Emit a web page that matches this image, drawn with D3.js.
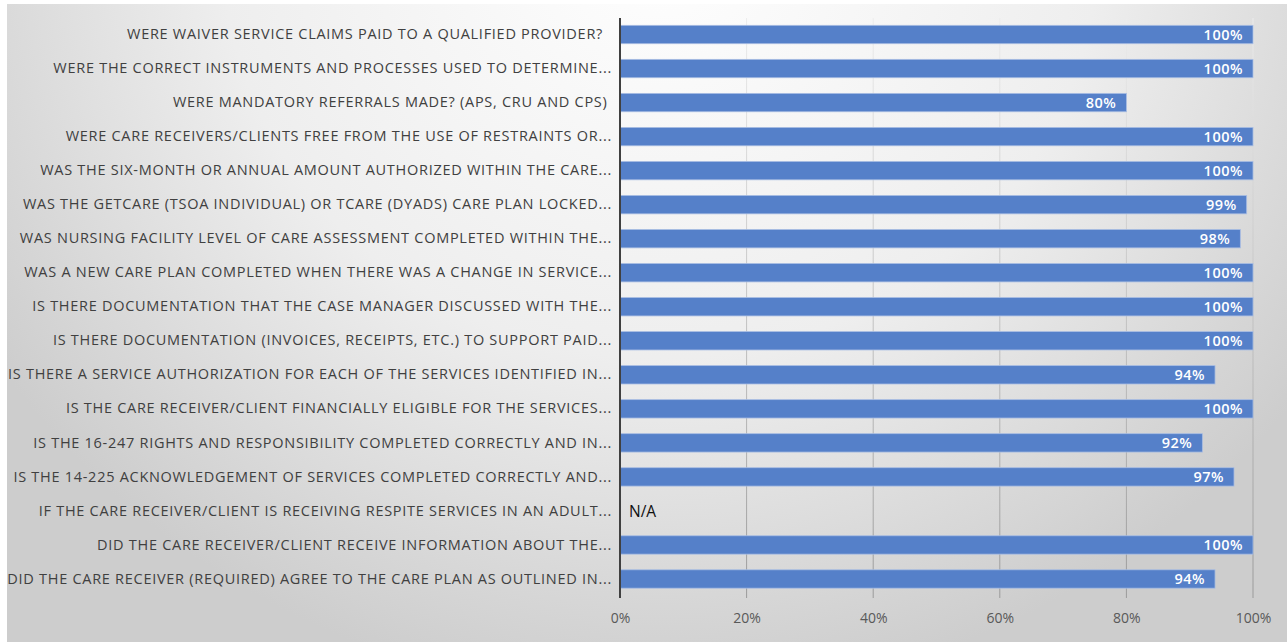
<!DOCTYPE html>
<html>
<head>
<meta charset="utf-8">
<script src="https://cdn.jsdelivr.net/npm/d3@7"></script>
<style>
  html, body { margin: 0; padding: 0; background: #ffffff; }
  svg { display: block; }
  text { font-family: "Open Sans", Lato, sans-serif; }
</style>
</head>
<body>
<svg id="chart" width="1287" height="642"></svg>
<script>
// Audit questions, top to bottom
const questions = [
  "WERE WAIVER SERVICE CLAIMS PAID TO A QUALIFIED PROVIDER?\u00a0\u00a0",
  "WERE THE CORRECT INSTRUMENTS AND PROCESSES USED TO DETERMINE...",
  "WERE MANDATORY REFERRALS MADE? (APS, CRU AND CPS)\u00a0",
  "WERE CARE RECEIVERS/CLIENTS FREE FROM THE USE OF RESTRAINTS OR...",
  "WAS THE SIX-MONTH OR ANNUAL AMOUNT AUTHORIZED WITHIN THE CARE...",
  "WAS THE GETCARE (TSOA INDIVIDUAL) OR TCARE (DYADS) CARE PLAN LOCKED...",
  "WAS NURSING FACILITY LEVEL OF CARE ASSESSMENT COMPLETED WITHIN THE...",
  "WAS A NEW CARE PLAN COMPLETED WHEN THERE WAS A CHANGE IN SERVICE...",
  "IS THERE DOCUMENTATION THAT THE CASE MANAGER DISCUSSED WITH THE...",
  "IS THERE DOCUMENTATION (INVOICES, RECEIPTS, ETC.) TO SUPPORT PAID...",
  "IS THERE A SERVICE AUTHORIZATION FOR EACH OF THE SERVICES IDENTIFIED IN...",
  "IS THE CARE RECEIVER/CLIENT FINANCIALLY ELIGIBLE FOR THE SERVICES...",
  "IS THE 16-247 RIGHTS AND RESPONSIBILITY COMPLETED CORRECTLY AND IN...",
  "IS THE 14-225 ACKNOWLEDGEMENT OF SERVICES COMPLETED CORRECTLY AND...",
  "IF THE CARE RECEIVER/CLIENT IS RECEIVING RESPITE SERVICES IN AN ADULT...",
  "DID THE CARE RECEIVER/CLIENT RECEIVE INFORMATION ABOUT THE...",
  "DID THE CARE RECEIVER (REQUIRED) AGREE TO THE CARE PLAN AS OUTLINED IN..."
];

// Compliance rate in percent; null means not applicable
const compliance = [100, 100, 80, 100, 100, 99, 98, 100, 100, 100, 94, 100, 92, 97, null, 100, 94];

const xTicks = [0, 20, 40, 60, 80, 100];
const naLabel = "N/A";

const rows = questions.map((q, i) => ({ q, v: compliance[i] }));

const svg = d3.select("#chart");
const W = 1287, H = 642;

// Backdrop with a soft radial shading
const defs = svg.append("defs");
const bg = defs.append("radialGradient")
  .attr("id", "bgGrad")
  .attr("gradientUnits", "userSpaceOnUse")
  .attr("cx", 660).attr("cy", -60).attr("r", 760)
  .attr("gradientTransform", "translate(660,-60) scale(1.05,1) translate(-660,60)");
bg.append("stop").attr("offset", 0).attr("stop-color", "#ffffff");
bg.append("stop").attr("offset", 0.55).attr("stop-color", "#eeeeee");
bg.append("stop").attr("offset", 1).attr("stop-color", "#cdcdcd");

const gridGrad = defs.append("linearGradient")
  .attr("id", "gridGrad")
  .attr("gradientUnits", "userSpaceOnUse")
  .attr("x1", 0).attr("y1", 18).attr("x2", 0).attr("y2", 598);
gridGrad.append("stop").attr("offset", 0).attr("stop-color", "#ececec");
gridGrad.append("stop").attr("offset", 1).attr("stop-color", "#9a9a9a");

svg.append("rect")
  .attr("x", 7).attr("y", 4)
  .attr("width", W - 7).attr("height", H - 4)
  .attr("fill", "url(#bgGrad)");

// Scales
const x = d3.scaleLinear().domain([0, 100]).range([620, 1253]);
const y = d3.scaleBand()
  .domain(questions)
  .range([17.5, 596])
  .paddingInner(0.46)
  .paddingOuter(0.23);

// Vertical gridlines
svg.append("g")
  .selectAll("line")
  .data(xTicks.filter(t => t > 0))
  .join("line")
  .attr("x1", d => x(d)).attr("x2", d => x(d))
  .attr("y1", 18).attr("y2", 598)
  .attr("stroke", "url(#gridGrad)")
  .attr("stroke-width", 1);

// Bars
const barRows = rows.filter(d => d.v !== null);
svg.append("g")
  .selectAll("rect")
  .data(barRows)
  .join("rect")
  .attr("x", x(0))
  .attr("y", d => y(d.q))
  .attr("width", d => x(d.v) - x(0))
  .attr("height", y.bandwidth())
  .attr("fill", "#5580c9")
  .attr("stroke", "#a9bde3")
  .attr("stroke-width", 0.8);

// Value labels inside bar ends
svg.append("g")
  .selectAll("text")
  .data(barRows)
  .join("text")
  .attr("x", d => x(d.v) - 10)
  .attr("y", d => y(d.q) + y.bandwidth() / 2)
  .attr("dy", "0.36em")
  .attr("text-anchor", "end")
  .attr("fill", "#ffffff")
  .attr("font-size", 14.5)
  .attr("font-weight", 600)
  .attr("letter-spacing", 0.5)
  .text(d => d.v + "%");

// Not-applicable marker
svg.append("g")
  .selectAll("text")
  .data(rows.filter(d => d.v === null))
  .join("text")
  .attr("x", x(0) + 9)
  .attr("y", d => y(d.q) + y.bandwidth() / 2)
  .attr("dy", "0.36em")
  .attr("fill", "#111111")
  .attr("font-size", 15.5)
  .text(naLabel);

// Category axis
const yAxis = svg.append("g")
  .attr("transform", `translate(${x(0)},0)`)
  .call(d3.axisLeft(y).tickSize(0).tickPadding(8));
yAxis.select(".domain").remove();
yAxis.selectAll("text")
  .attr("font-family", "'Open Sans', Lato, sans-serif")
  .attr("font-size", 14.5)
  .attr("letter-spacing", 0.72)
  .attr("fill", "#404040")
  .style("white-space", "pre");

// Baseline at 0%
svg.append("line")
  .attr("x1", x(0)).attr("x2", x(0))
  .attr("y1", 18).attr("y2", 598)
  .attr("stroke", "#404040")
  .attr("stroke-width", 2);

// Percent axis
const xAxis = svg.append("g")
  .attr("transform", "translate(0,598)")
  .call(d3.axisBottom(x).tickValues(xTicks).tickFormat(d => d + "%").tickSize(0).tickPadding(15));
xAxis.select(".domain").remove();
xAxis.selectAll("text")
  .attr("font-family", "'Open Sans', Lato, sans-serif")
  .attr("font-size", 14)
  .attr("fill", "#595959");
</script>
</body>
</html>
